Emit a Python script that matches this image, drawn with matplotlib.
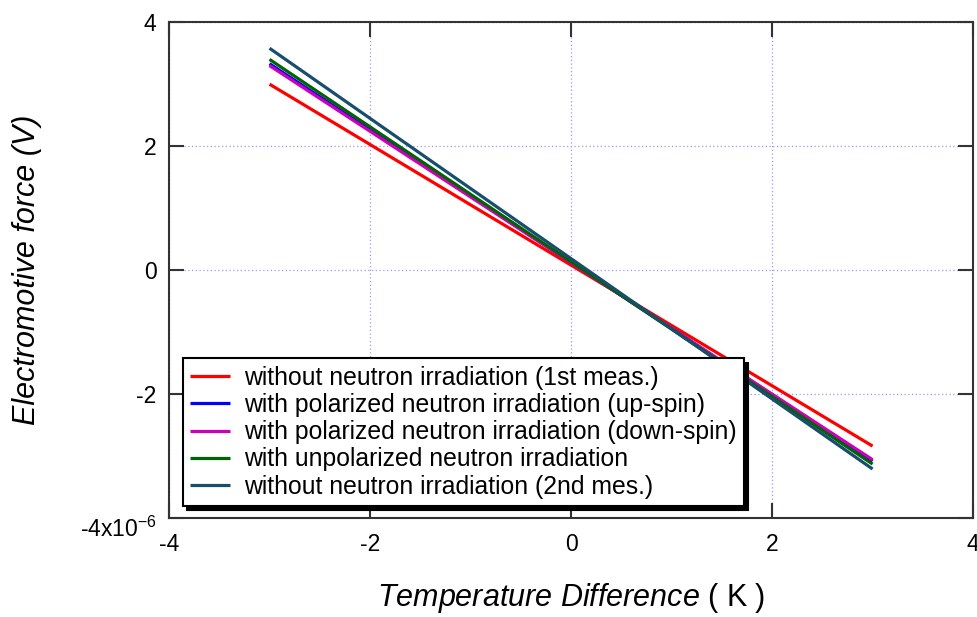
import matplotlib
matplotlib.use("Agg")
import matplotlib.pyplot as plt
from matplotlib.ticker import FixedLocator, FixedFormatter
from matplotlib.transforms import ScaledTranslation

plt.rcParams['font.family'] = ['Liberation Sans', 'DejaVu Sans']
plt.rcParams['mathtext.fontset'] = 'custom'
plt.rcParams['mathtext.rm'] = 'Liberation Sans'
plt.rcParams['mathtext.it'] = 'Liberation Sans:italic'

# Data (temperature difference in K, EMF in V)
temp_diff = [-3.0, 3.0]
emf_1st = [3.00e-6, -2.84e-6]
emf_up = [3.33e-6, -3.08e-6]
emf_down = [3.30e-6, -3.06e-6]
emf_unpol = [3.40e-6, -3.13e-6]
emf_2nd = [3.58e-6, -3.21e-6]

labels = [
    "without neutron irradiation (1st meas.)",
    "with polarized neutron irradiation (up-spin)",
    "with polarized neutron irradiation (down-spin)",
    "with unpolarized neutron irradiation",
    "without neutron irradiation (2nd mes.)",
]
series = [emf_1st, emf_up, emf_down, emf_unpol, emf_2nd]
colors = ['#ff0000', '#0000ff', '#cc00bb', '#006400', '#174e6e']

xticks = [-4, -2, 0, 2, 4]
xticklabels = ['-4', '-2', '0', '2', '4']
yticks = [-4e-6, -2e-6, 0, 2e-6, 4e-6]
yticklabels = [r'-4x10$^{-6}$', '-2', '0', '2', '4']

fig = plt.figure(figsize=(9.77, 6.17), dpi=100)
ax = fig.add_axes([0.173, 0.1605, 0.823, 0.8035])

for y, c, lab in zip(series, colors, labels):
    ax.plot(temp_diff, y, color=c, lw=2.3, label=lab, solid_capstyle='butt')

ax.set_xlim(-4, 4)
ax.set_ylim(-4e-6, 4e-6)
ax.xaxis.set_major_locator(FixedLocator(xticks))
ax.xaxis.set_major_formatter(FixedFormatter(xticklabels))
ax.yaxis.set_major_locator(FixedLocator(yticks))
ax.yaxis.set_major_formatter(FixedFormatter(yticklabels))

ax.grid(True, color='#9999ff', linestyle=(0, (1, 2)), linewidth=0.9)
ax.tick_params(direction='in', length=11, width=1.5, color='#333333',
               top=True, right=True, labelsize=16.5)
ax.tick_params(axis='x', pad=11)
ax.tick_params(axis='y', pad=9)
for s in ax.spines.values():
    s.set_color('#333333')
    s.set_linewidth(1.5)

ax.set_ylabel('Electromotive force (V)', fontsize=22, style='italic', labelpad=27)
ax.set_xlabel(r'$\mathit{Temperature\ Difference}$ ( K )', fontsize=22, labelpad=18)

leg = ax.legend(loc='lower left', bbox_to_anchor=(0.017, 0.024), fontsize=17.8,
                frameon=True, fancybox=False, edgecolor='black',
                shadow={'color': 'black', 'alpha': 1.0, 'ox': 3, 'oy': -3},
                handlelength=1.62, handletextpad=0.55, labelspacing=0.13,
                borderpad=0.3, borderaxespad=0)
leg.get_frame().set_linewidth(1.5)
for line in leg.get_lines():
    line.set_linewidth(2.3)

fig.canvas.draw()
# shift the bottom y tick label (with exponent) slightly down as in the reference
lab0 = ax.yaxis.get_major_ticks()[0].label1
lab0.set_transform(lab0.get_transform() + ScaledTranslation(0, -6 / 72, fig.dpi_scale_trans))

fig.savefig('out.png', dpi=100)
